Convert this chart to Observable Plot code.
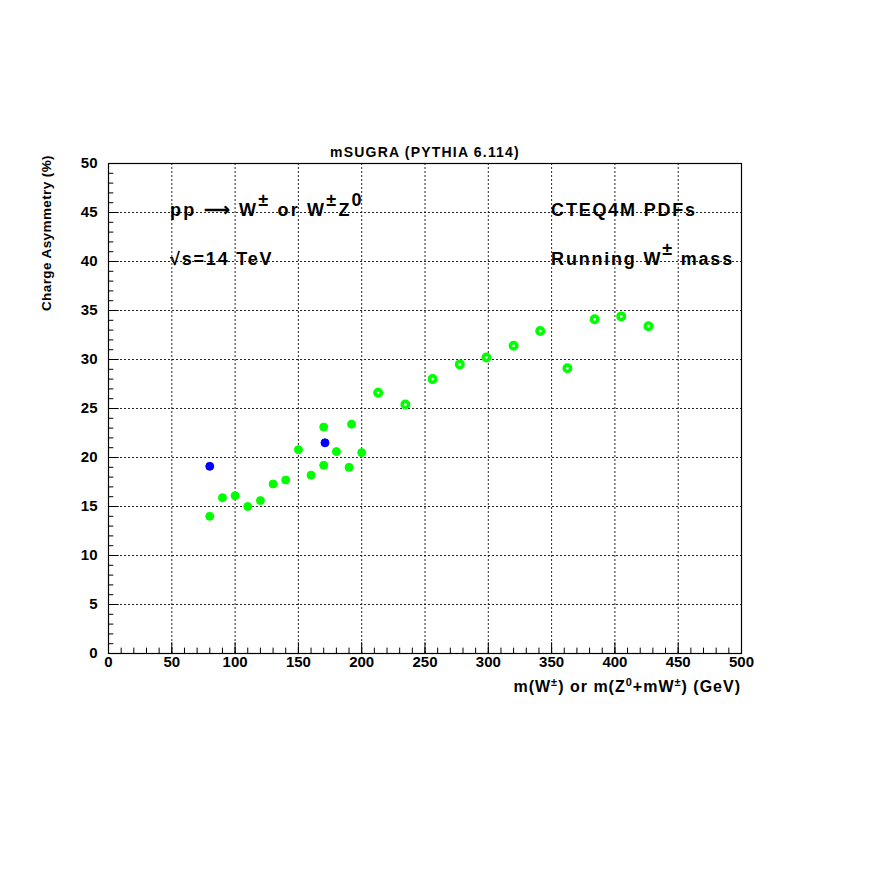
<!DOCTYPE html>
<html><head><meta charset="utf-8">
<script src="https://cdn.jsdelivr.net/npm/d3@7"></script>
<script src="https://cdn.jsdelivr.net/npm/@observablehq/plot@0.6"></script>
<style>
html,body{margin:0;padding:0;background:#fff;}
svg{font-family:"Liberation Sans",Arial,sans-serif;}
</style>
</head><body>
<div id="chart"></div>
<script>
// Data
const greenMass = [80, 90, 100, 110, 120, 130, 140, 150, 160, 170, 170, 180, 190, 192, 200,
  213, 234.5, 256, 277.5, 298.5, 320, 341, 362.5, 384, 405, 426.5];
const greenAsym = [14.0, 15.9, 16.1, 15.0, 15.6, 17.3, 17.7, 20.8, 18.2, 19.2, 23.1, 20.6, 19.0, 23.4, 20.5,
  26.6, 25.4, 28.0, 29.5, 30.2, 31.4, 32.9, 29.1, 34.1, 34.4, 33.4];
const blueMass = [80, 171];
const blueAsym = [19.1, 21.5];
const xTicks = [0, 50, 100, 150, 200, 250, 300, 350, 400, 450, 500];
const yTicks = [0, 5, 10, 15, 20, 25, 30, 35, 40, 45, 50];
const xMinor = d3.range(0, 501, 10);
const yMinor = d3.range(0, 51, 1);

const green = greenMass.map((m, i) => ({m, a: greenAsym[i], ring: m > 205}));
const blue = blueMass.map((m, i) => ({m, a: blueAsym[i]}));

const W = 872, H = 872;
const plot = Plot.plot({
  width: W, height: H,
  marginLeft: 108, marginRight: 131, marginTop: 163, marginBottom: 219,
  x: {domain: [0, 500]},
  y: {domain: [0, 50]},
  style: {background: "#fff"},
  marks: [
    // grid
    Plot.ruleX(xTicks.slice(1, -1), {stroke: "#000", strokeWidth: 1, strokeDasharray: "2,2", strokeOpacity: 0.85}),
    Plot.ruleY(yTicks.slice(1, -1), {stroke: "#000", strokeWidth: 1, strokeDasharray: "2,2", strokeOpacity: 0.85}),
    // minor ticks inside frame
    Plot.ruleY(yMinor, {x1: 0, x2: 4.2, stroke: "#000"}),
    Plot.ruleY(yTicks, {x1: 0, x2: 8.5, stroke: "#000"}),
    Plot.ruleX(xMinor, {y1: 0, y2: 0.55, stroke: "#000"}),
    Plot.ruleX(xTicks, {y1: 0, y2: 1.1, stroke: "#000"}),
    // frame
    Plot.frame({stroke: "#000", strokeWidth: 1.2}),
    // axes
    Plot.axisX(xTicks, {tickSize: 0, tickPadding: 3, fontSize: 15, fontWeight: "bold", label: null}),
    Plot.axisY(yTicks, {tickSize: 0, tickPadding: 11, fontSize: 15, fontWeight: "bold", label: null}),
    // points
    Plot.dot(green.filter(d => !d.ring), {x: "m", y: "a", r: 4, fill: "#00ff00", stroke: "#00ff00", strokeWidth: 1}),
    Plot.dot(green.filter(d => d.ring), {x: "m", y: "a", r: 3.2, fill: "#fff", stroke: "#00ff00", strokeWidth: 3.6}),
    Plot.dot(blue, {x: "m", y: "a", r: 4, fill: "#0000ff", stroke: "#0000ff", strokeWidth: 1})
  ]
});
document.getElementById("chart").appendChild(plot);

const sx = v => plot.scale("x").apply(v), sy = v => plot.scale("y").apply(v);
const svg = d3.select(plot);
const g = svg.append("g").attr("fill", "#000").style("font-family", '"Liberation Sans",Arial,sans-serif');

function rich(x, y, parts, size, anchor, spacing, supSize) {
  const t = g.append("text").attr("x", x).attr("y", y).attr("font-size", size)
    .attr("font-weight", "bold").attr("text-anchor", anchor || "start")
    .attr("letter-spacing", spacing || 0);
  parts.forEach(p => {
    const s = t.append("tspan").text(p.t);
    if (p.sup) s.attr("baseline-shift", "super").attr("font-size", supSize || size);
  });
  return t;
}

// title
rich(425, 157, [{t: "mSUGRA (PYTHIA 6.114)"}], 14, "middle", 1.2);

// in-plot labels (anchored with the scales)
rich(sx(49), sy(44.6), [{t: "pp \u27F6 W"}, {t: "\u00B1", sup: 1}, {t: " or W"}, {t: "\u00B1", sup: 1}, {t: "Z"}, {t: "0", sup: 1}], 18, "start", 2.2);
rich(sx(49), sy(39.6), [{t: "\u221As=14 TeV"}], 18, "start", 1.8);
rich(sx(350), sy(44.6), [{t: "CTEQ4M PDFs"}], 18, "start", 1.8);
rich(sx(350), sy(39.6), [{t: "Running W"}, {t: "\u00B1", sup: 1}, {t: " mass"}], 18, "start", 1.8);

// axis titles
rich(741, 692, [{t: "m(W"}, {t: "\u00B1", sup: 1}, {t: ") or m(Z"}, {t: "0", sup: 1}, {t: "+mW"}, {t: "\u00B1", sup: 1}, {t: ") (GeV)"}], 16, "end", 1, 11);
g.append("text").attr("transform", "translate(51,155) rotate(-90)").attr("text-anchor", "end")
  .attr("font-size", 13.5).attr("font-weight", "bold").attr("letter-spacing", 0.4).text("Charge Asymmetry (%)");
</script>
</body></html>
